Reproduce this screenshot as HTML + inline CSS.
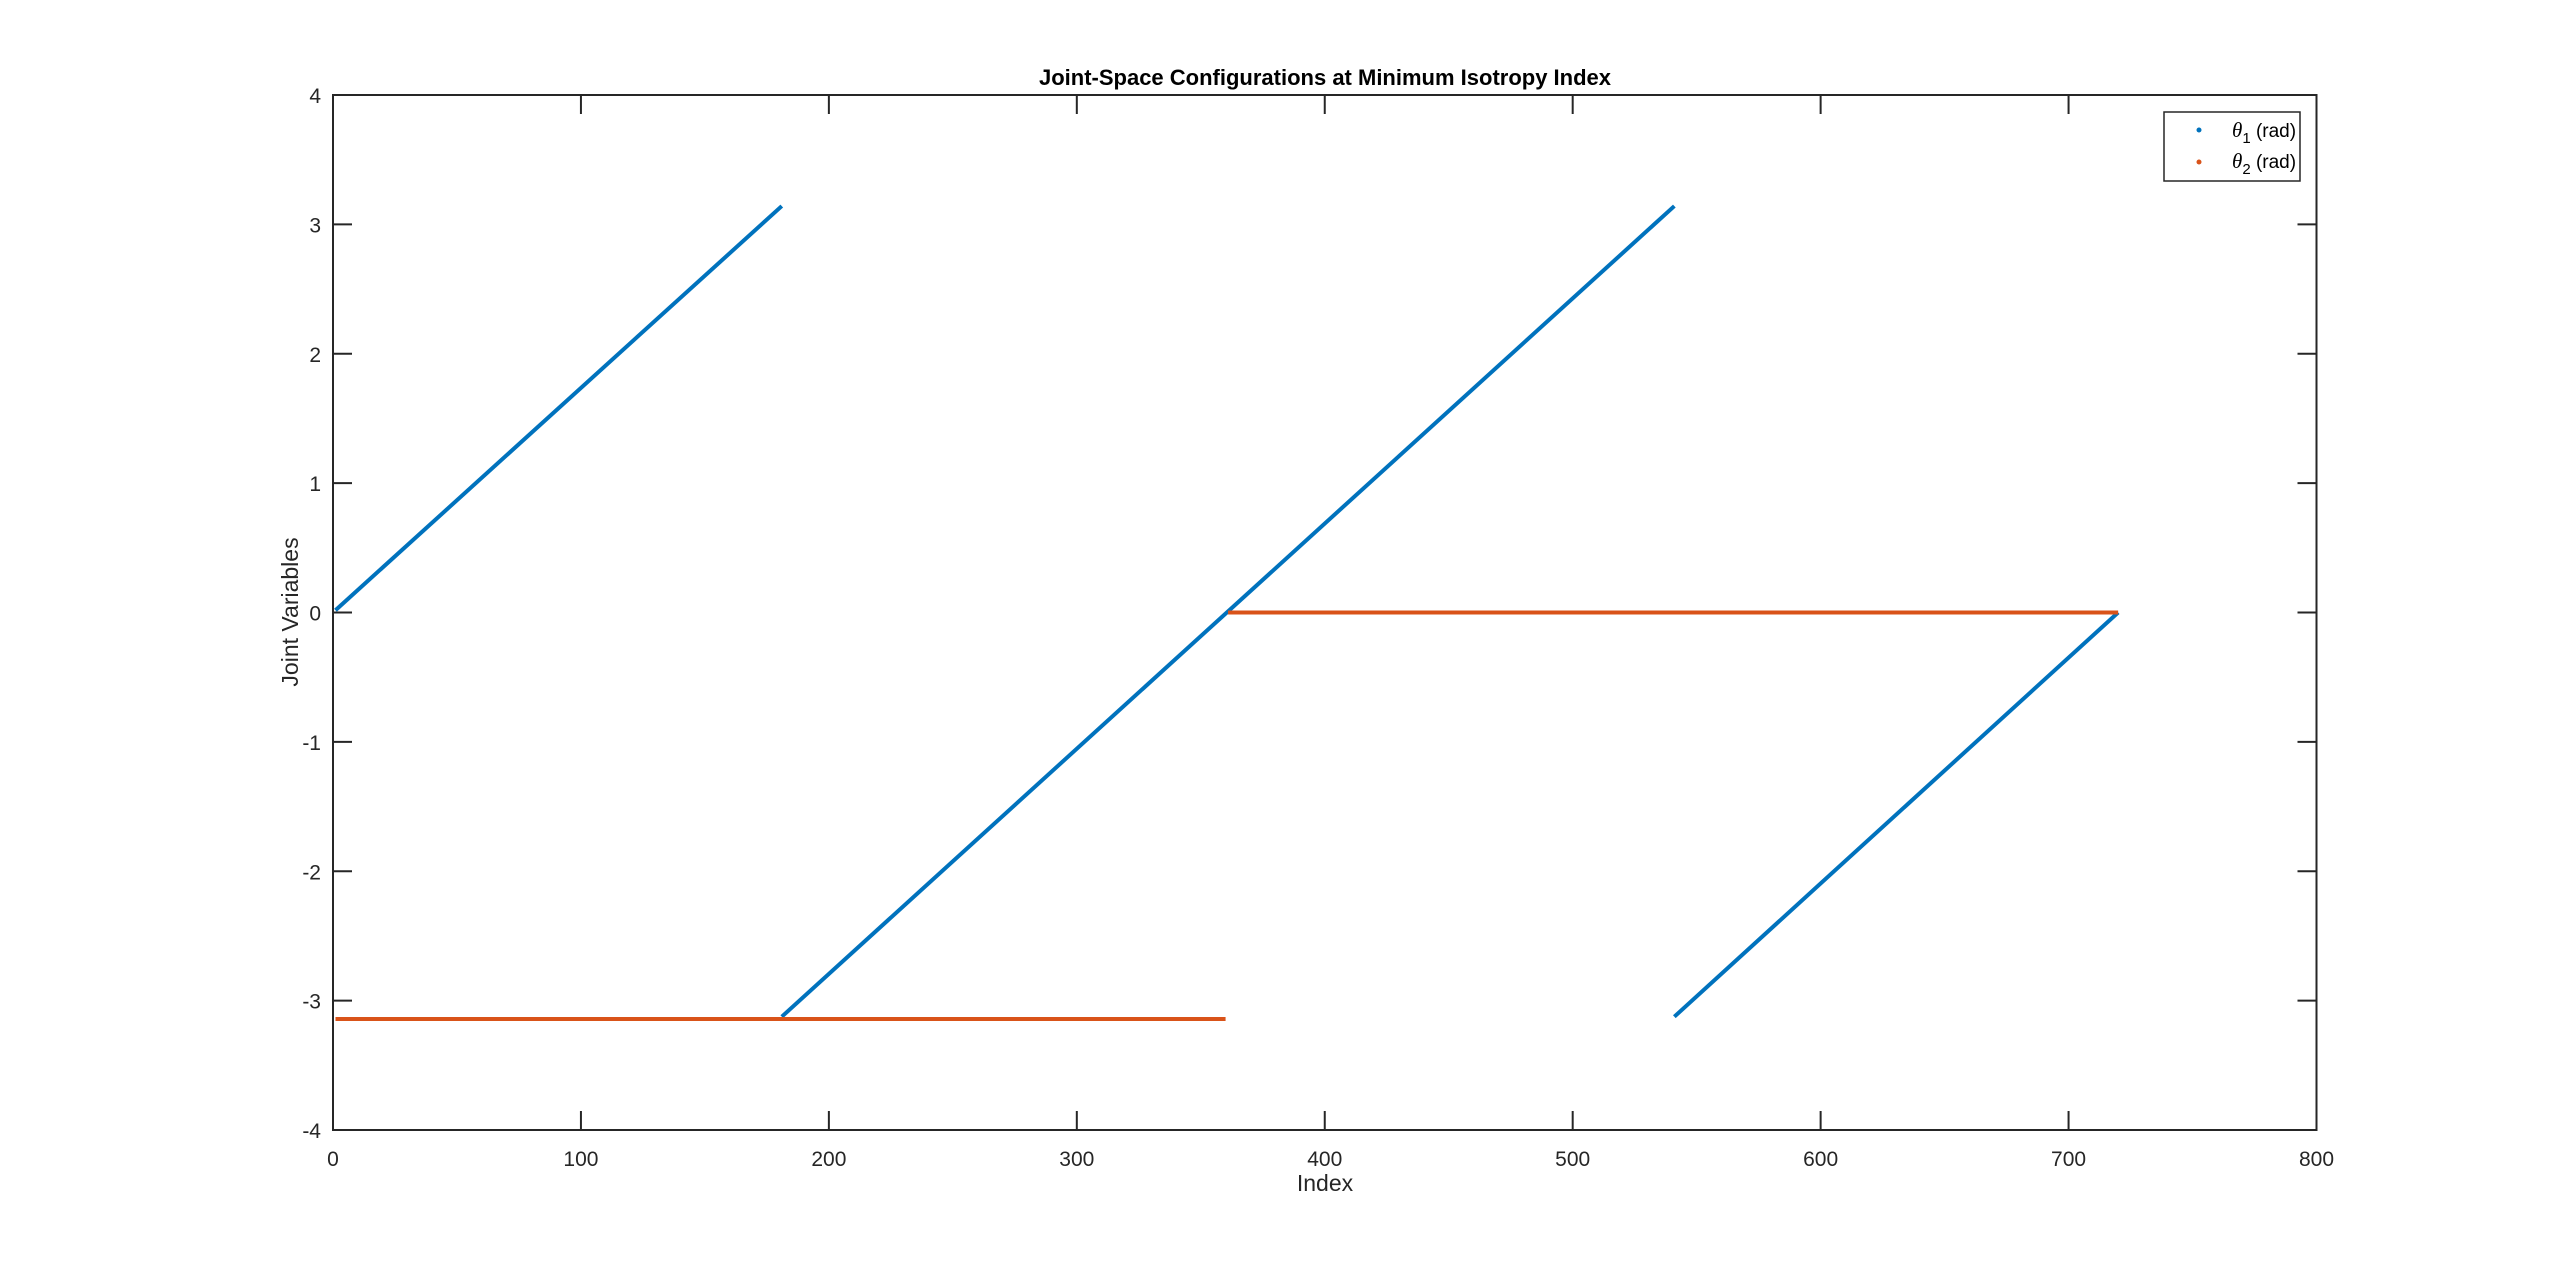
<!DOCTYPE html>
<html><head><meta charset="utf-8"><style>
html,body{margin:0;padding:0;background:#fff;}
svg{display:block;font-family:"Liberation Sans",Arial,sans-serif;}
</style></head><body>
<svg id="chart" width="2560" height="1271" viewBox="0 0 2560 1271" xmlns="http://www.w3.org/2000/svg">
<rect width="2560" height="1271" fill="#fff"/>
<g id="marks"></g>
<g id="axes"></g>
</svg>
<script>
// Data: segments of each series as [startIndex, endIndex] with [startValue, endValue]
const xTicks = [0,100,200,300,400,500,600,700,800];
const yTicks = [-4,-3,-2,-1,0,1,2,3,4];
const theta1SegIdx = [[1,181],[181,541],[541,720]];
const theta1SegVal = [[0.0175,3.1416],[-3.1241,3.1416],[-3.1241,0]];
const theta2SegIdx = [[1,360],[361,720]];
const theta2SegVal = [[-3.1416,-3.1416],[0,0]];

const L=333, R=2316.5, T=95, B=1130;
const xMin=0,xMax=800,yMin=-4,yMax=4;
const sx=v=>L+(v-xMin)/(xMax-xMin)*(R-L);
const sy=v=>B-(v-yMin)/(yMax-yMin)*(B-T);
const NS='http://www.w3.org/2000/svg';
const marks=document.getElementById('marks'), axes=document.getElementById('axes');
function mk(tag,attrs,parent){const e=document.createElementNS(NS,tag);for(const k in attrs)e.setAttribute(k,attrs[k]);parent.appendChild(e);return e;}

function drawSeries(idx,val,color,name){
  idx.forEach((s,i)=>{
    const ln=mk('line',{x1:sx(s[0]),y1:sy(val[i][0]),x2:sx(s[1]),y2:sy(val[i][1]),stroke:color,'stroke-width':4},marks);
    
    
  });
}
drawSeries(theta1SegIdx,theta1SegVal,'#0072BD','theta1');
drawSeries(theta2SegIdx,theta2SegVal,'#D95319','theta2');

const box=mk('rect',{x:L,y:T,width:R-L,height:B-T,fill:'none',stroke:'#262626','stroke-width':2},axes);


const tl=19;
xTicks.forEach(v=>{
  const x=sx(v);
  mk('line',{x1:x,y1:B,x2:x,y2:B-tl,stroke:'#262626','stroke-width':2},axes);
  mk('line',{x1:x,y1:T,x2:x,y2:T+tl,stroke:'#262626','stroke-width':2},axes);
  const t=mk('text',{x:x,y:B+36,'text-anchor':'middle','font-size':21,fill:'#262626'},axes);
  t.textContent=v;
  
  
});
yTicks.forEach(v=>{
  const y=sy(v);
  mk('line',{x1:L,y1:y,x2:L+tl,y2:y,stroke:'#262626','stroke-width':2},axes);
  mk('line',{x1:R,y1:y,x2:R-tl,y2:y,stroke:'#262626','stroke-width':2},axes);
  const t=mk('text',{x:L-12,y:y+8,'text-anchor':'end','font-size':21,fill:'#262626'},axes);
  t.textContent=v;
  
  
});
</script>
<svg style="position:absolute;left:0;top:0" width="2560" height="1271" xmlns="http://www.w3.org/2000/svg">
<text x="1325" y="85" text-anchor="middle" font-size="22" font-weight="bold" fill="#000" font-family="Liberation Sans, sans-serif">Joint-Space Configurations at Minimum Isotropy Index</text>
<text x="1325" y="1191" text-anchor="middle" font-size="23" fill="#262626" font-family="Liberation Sans, sans-serif">Index</text>
<text x="298" y="612" text-anchor="middle" font-size="23" fill="#262626" font-family="Liberation Sans, sans-serif" transform="rotate(-90 298 612)">Joint Variables</text>
<g>
<rect x="2164" y="112" width="136" height="69" fill="#fff" stroke="#262626" stroke-width="1.5"/>
<circle cx="2199" cy="130" r="2.5" fill="#0072BD"/>
<text x="2232" y="137" font-size="19" fill="#000" font-family="Liberation Sans, sans-serif"><tspan font-family="Liberation Serif, serif" font-style="italic" font-size="21">θ</tspan><tspan font-size="15" dy="6">1</tspan><tspan dy="-6"> (rad)</tspan></text>
<circle cx="2199" cy="162" r="2.5" fill="#D95319"/>
<text x="2232" y="168" font-size="19" fill="#000" font-family="Liberation Sans, sans-serif"><tspan font-family="Liberation Serif, serif" font-style="italic" font-size="21">θ</tspan><tspan font-size="15" dy="6">2</tspan><tspan dy="-6"> (rad)</tspan></text>
</g>
</svg>
</body></html>
